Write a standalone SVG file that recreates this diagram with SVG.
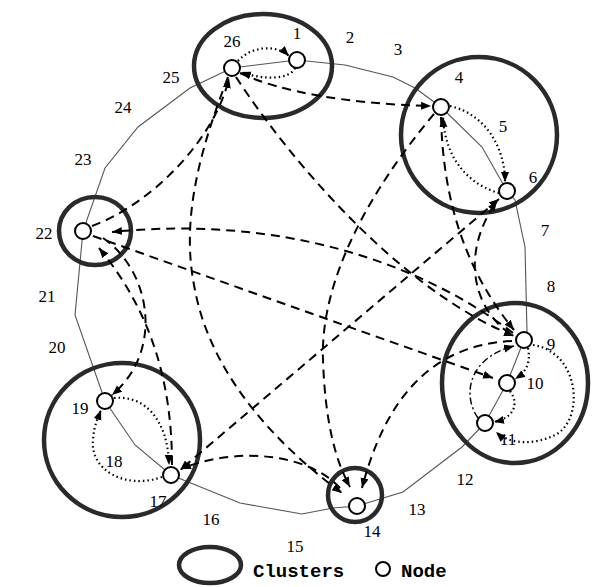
<svg xmlns="http://www.w3.org/2000/svg" width="616" height="587" viewBox="0 0 616 587">
<style>
.ring{fill:none;stroke:#555;stroke-width:1.1}
.cl{fill:none;stroke:#2a2a2a;stroke-width:4.5}
.nd{fill:#fff;stroke:#000;stroke-width:2}
.da{fill:none;stroke:#000;stroke-width:2;stroke-dasharray:9 6;marker-end:url(#ah)}
.dt{fill:none;stroke:#000;stroke-width:2.2;stroke-dasharray:1.5 3;marker-end:url(#ah)}
.dd{fill:none;stroke:#000;stroke-width:1.4;stroke-dasharray:7 3 2 3;marker-end:url(#ah)}
.lb{font-family:"Liberation Serif","Times New Roman",serif;font-size:17px;fill:#000;text-anchor:middle}
.lg{font-family:"Liberation Mono","Courier New",monospace;font-size:19px;font-weight:bold;fill:#000}
</style>
<defs>
<marker id="ah" markerUnits="userSpaceOnUse" markerWidth="11" markerHeight="9" refX="10" refY="4" orient="auto-start-reverse">
<path d="M0,0 L10,4 L0,8 z" fill="#000"/>
</marker>
</defs>
<g id="ring">
<path class="ring" d="M232,68 L297,60 L345,65 L393,77 L415,88 L441,107 L482,147 L507,191 L515,200 L525,247 L527,332 L524,340 L507,383 L485,423 L462,447 L403,492 L380,499 L357,506 L333,508 L302,514 L240,503 L171,475 L135,445 L105,401 L75,315 L83,231 L105,168 L138,127 L190,88 Z"/>
</g>
<g id="clusters">
<ellipse id="cluster-a" class="cl" cx="263" cy="66" rx="69" ry="52"/>
<circle id="cluster-b" class="cl" cx="479" cy="135" r="78"/>
<ellipse id="cluster-c" class="cl" cx="515" cy="383" rx="73" ry="80"/>
<ellipse id="cluster-d" class="cl" cx="95" cy="231" rx="36" ry="34"/>
<ellipse id="cluster-e" class="cl" cx="122" cy="440" rx="78" ry="77"/>
<circle id="cluster-f" class="cl" cx="355" cy="495" r="27"/>
</g>
<g id="connectors">
<path class="dt" d="M238,61 C252,45 278,45 289,56"/>
<path class="dt" d="M295,68 C290,80 262,80 241,72"/>
<path class="dt" d="M450,106 C488,115 505,150 505,182"/>
<path class="dt" d="M499,193 C470,185 445,160 443,117"/>
<path class="dt" d="M528,348 C531,363 526,372 515,379"/>
<path class="dt" d="M510,391 C520,405 513,418 494,422"/>
<path class="dt" d="M533,345 C580,352 585,420 555,435 C535,445 510,445 496,432"/>
<path class="dt" d="M114,398 C145,395 168,420 169,465"/>
<path class="dt" d="M162,477 C125,490 90,470 93,440 C94,425 98,418 101,410"/>
<path class="dd" d="M478,418 C462,395 468,358 514,346"/>
<path class="da" d="M240,73 C280,92 350,104 431,106"/>
<path class="da" d="M92,226 C150,205 215,140 229,78"/>
<path class="da" d="M513,333 C420,262 280,215 112,232"/>
<path class="da" d="M93,236 L493,378"/>
<path class="da" d="M236,77 C290,160 400,290 514,336"/>
<path class="da" d="M441,117 C443,200 465,270 514,330"/>
<path class="da" d="M510,334 C470,305 462,250 497,201"/>
<path class="da" d="M499,199 L180,470" style="marker-start:url(#ah)"/>
<path class="da" d="M340,488 C310,455 240,445 181,469"/>
<path class="da" d="M228,77 C200,150 180,220 195,290 C210,370 270,440 342,493"/>
<path class="da" d="M434,114 C370,190 320,280 323,360 C325,420 335,460 350,487"/>
<path class="da" d="M512,341 C430,345 385,400 362,488"/>
<path class="da" d="M172,465 C172,380 150,310 99,248"/>
<path class="da" d="M103,238 C150,270 165,350 112,395"/>
</g>
<g id="node-1"><circle class="nd" cx="297" cy="60" r="8"/><text class="lb" x="297" y="39">1</text></g>
<g id="node-26"><circle class="nd" cx="232" cy="68" r="8"/><text class="lb" x="232" y="47">26</text></g>
<g id="node-4"><circle class="nd" cx="441" cy="107" r="8"/><text class="lb" x="459" y="83">4</text></g>
<g id="node-6"><circle class="nd" cx="507" cy="191" r="8"/><text class="lb" x="533" y="183">6</text></g>
<g id="node-9"><circle class="nd" cx="524" cy="340" r="8"/><text class="lb" x="551" y="350">9</text></g>
<g id="node-10"><circle class="nd" cx="507" cy="383" r="8"/><text class="lb" x="535" y="389">10</text></g>
<g id="node-11"><circle class="nd" cx="485" cy="423" r="8"/><text class="lb" x="508" y="445">11</text></g>
<g id="node-14"><circle class="nd" cx="357" cy="506" r="8"/><text class="lb" x="372" y="537">14</text></g>
<g id="node-17"><circle class="nd" cx="171" cy="475" r="8"/><text class="lb" x="158" y="507">17</text></g>
<g id="node-19"><circle class="nd" cx="105" cy="401" r="8"/><text class="lb" x="80" y="414">19</text></g>
<g id="node-22"><circle class="nd" cx="83" cy="231" r="8"/><text class="lb" x="44" y="239">22</text></g>
<g id="labels">
<text class="lb" x="350" y="43">2</text>
<text class="lb" x="398" y="55">3</text>
<text class="lb" x="503" y="132">5</text>
<text class="lb" x="545" y="236">7</text>
<text class="lb" x="551" y="292">8</text>
<text class="lb" x="465" y="485">12</text>
<text class="lb" x="417" y="515">13</text>
<text class="lb" x="295" y="552">15</text>
<text class="lb" x="211" y="525">16</text>
<text class="lb" x="114" y="467">18</text>
<text class="lb" x="57" y="353">20</text>
<text class="lb" x="47" y="302">21</text>
<text class="lb" x="83" y="165">23</text>
<text class="lb" x="123" y="113">24</text>
<text class="lb" x="171" y="83">25</text>
</g>
<g id="legend">
<ellipse class="cl" cx="210" cy="565" rx="31" ry="18"/>
<text class="lg" x="253" y="577">Clusters</text>
<circle class="nd" cx="383" cy="569" r="7"/>
<text class="lg" x="401" y="577">Node</text>
</g>
</svg>
